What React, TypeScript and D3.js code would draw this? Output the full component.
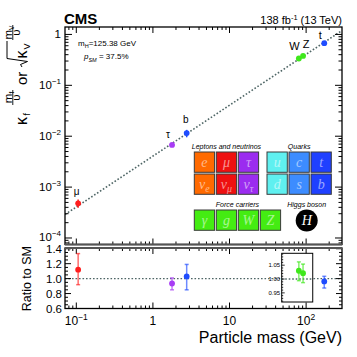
import * as d3 from "d3";
import React from "react";

const particleNames = ["μ", "τ", "b", "W", "Z", "t"];
const particleMass = [0.1057, 1.777, 2.76, 80.38, 91.19, 172.5]; // GeV
const ratioToSM = [1.12, 0.935, 1.03, 1.03, 1.021, 0.963];
const ratioUp = [1.335, 1.01, 1.19, 1.062, 1.054, 1.031];
const ratioDown = [0.919, 0.85, 0.85, 0.994, 0.987, 0.874];
const particleColor = ["#ff1e1e", "#a83cf5", "#1f4cff", "#3fe81c", "#3fe81c", "#1f4cff"];
const shownInInset = [false, false, false, true, true, false];
const vev = 246.22;

// axis ticks
const xMajor = [0.1, 1, 10, 100];
const xMajorBase = ["10", "1", "10", "10"];
const xMajorSup = ["−1", "", "", "2"];
const yMajor = [1, 0.1, 0.01, 0.001, 0.0001];
const yMajorBase = ["1", "10", "10", "10", "10"];
const yMajorSup = ["", "−1", "−2", "−3", "−4"];
const ratioMajor = [0.6, 0.8, 1.0, 1.2, 1.4];
const insetMajor = [0.95, 1.0, 1.05];

// legend
const leptonTop = ["e", "μ", "τ"];
const neutrinoSub = ["e", "μ", "τ"];
const leptonColor = ["#ff6a00", "#ee1010", "#9b2cef"];
const quarkTop = ["u", "c", "t"];
const quarkBottom = ["d", "s", "b"];
const quarkColor = ["#5ff0f0", "#3d8cff", "#1f40ff"];
const carriers = ["γ", "g", "W", "Z"];
const carrierColor = "#44ec12";

const sans = "'Liberation Sans', Arial, Helvetica, sans-serif";
const serif = "'Liberation Serif', 'Times New Roman', serif";
const dotColor = "#4f6666";

function logTicks(scale) {
  const [a, b] = scale.domain();
  const out = [];
  for (let e = Math.floor(Math.log10(a)); e <= Math.ceil(Math.log10(b)); e++) {
    for (let k = 1; k <= 9; k++) {
      const v = k * Math.pow(10, e);
      if (v >= a && v <= b) out.push({ v, major: k === 1 });
    }
  }
  return out;
}

function linTicks(lo, hi, step, majorStep) {
  const out = [];
  const n = Math.round((hi - lo) / step);
  for (let i = 0; i <= n; i++) {
    const v = lo + i * step;
    const r = v / majorStep;
    out.push({ v, major: Math.abs(r - Math.round(r)) < 1e-6 });
  }
  return out;
}

function Box({ x, y, size, color, children }) {
  return (
    <g>
      <rect x={x} y={y} width={size} height={size} fill={color} stroke="#3a3a3a" strokeWidth={1} />
      <text
        x={x + size / 2}
        y={y + size / 2 + 4.5}
        textAnchor="middle"
        fontFamily={serif}
        fontStyle="italic"
        fontSize={14}
        fill="#fff"
        fillOpacity={0.55}
      >
        {children}
      </text>
    </g>
  );
}

export default function App() {
  const x = d3.scaleLog().domain([0.0712, 294]).range([65, 342]);
  const yMain = d3.scaleLog().domain([7.45e-5, 1.4]).range([244.5, 27]);
  const yRatio = d3.scaleLinear().domain([0.6, 1.41]).range([308.5, 248]);
  const yInset = d3.scaleLinear().domain([0.917, 1.093]).range([302, 253.3]);
  const insetX = [x(48), x(122)];

  const [mainL, mainR] = x.range();
  const [mainB, mainT] = yMain.range();
  const [ratB, ratT] = yRatio.range();

  const pts = particleNames.map((name, i) => {
    const sm = particleMass[i] / vev;
    return {
      name,
      cx: x(particleMass[i]),
      cy: yMain(sm * ratioToSM[i]),
      hi: yMain(sm * ratioUp[i]),
      lo: yMain(sm * ratioDown[i]),
      ry: shownInInset[i] ? yInset(ratioToSM[i]) : yRatio(ratioToSM[i]),
      rhi: shownInInset[i] ? yInset(ratioUp[i]) : yRatio(ratioUp[i]),
      rlo: shownInInset[i] ? yInset(ratioDown[i]) : yRatio(ratioDown[i]),
      color: particleColor[i],
    };
  });
  const labelDx = [-1.5, -4, -1, -4.5, 3, -4];
  const labelDy = [-12, -11, -14, -13, -12, -8];

  const smLine = d3.line().x((d) => x(d)).y((d) => yMain(d / vev))(x.domain());

  const xt = logTicks(x);
  const yt = logTicks(yMain);
  const rt = linTicks(0.6, 1.4, 0.05, 0.2);
  const it = linTicks(0.92, 1.09, 0.01, 0.05);

  const boxSize = 20.3;
  const step = 22;

  return (
    <svg
      width={357}
      height={357}
      style={{ position: "absolute", left: 0, top: 0, background: "#fff" }}
      fontFamily={sans}
    >
      <defs>
        <clipPath id="mainClip">
          <rect x={mainL} y={mainT} width={mainR - mainL} height={mainB - mainT} />
        </clipPath>
      </defs>

      {/* header */}
      <text x={64} y={24} fontSize={15} fontWeight="bold">CMS</text>
      <text x={342} y={24} fontSize={11} textAnchor="end">
        138 fb<tspan dy={-4} fontSize={7.5}>-1</tspan>
        <tspan dy={4}> (13 TeV)</tspan>
      </text>

      {/* main panel */}
      <path d={smLine} clipPath="url(#mainClip)" fill="none" stroke={dotColor} strokeWidth={1.6} strokeDasharray="1.6,1.9" />

      {xt.map((t, i) => (
        <g key={"xm" + i} stroke="#000" strokeWidth={1}>
          <line x1={x(t.v)} x2={x(t.v)} y1={mainB} y2={mainB - (t.major ? 6 : 3)} />
          <line x1={x(t.v)} x2={x(t.v)} y1={mainT} y2={mainT + (t.major ? 6 : 3)} />
          <line x1={x(t.v)} x2={x(t.v)} y1={ratB} y2={ratB - (t.major ? 6 : 3)} />
          <line x1={x(t.v)} x2={x(t.v)} y1={ratT} y2={ratT + (t.major ? 6 : 3)} />
        </g>
      ))}
      {yt.map((t, i) => (
        <g key={"ym" + i} stroke="#000" strokeWidth={1}>
          <line x1={mainL} x2={mainL + (t.major ? 7 : 3.5)} y1={yMain(t.v)} y2={yMain(t.v)} />
          <line x1={mainR} x2={mainR - (t.major ? 7 : 3.5)} y1={yMain(t.v)} y2={yMain(t.v)} />
        </g>
      ))}
      {yMajor.map((v, i) => (
        <text key={"yl" + i} x={61} y={yMain(v) + 3.5} fontSize={11.5} textAnchor="end">
          {yMajorBase[i]}
          {yMajorSup[i] && (
            <tspan dy={-5} fontSize={8}>
              {yMajorSup[i]}
            </tspan>
          )}
        </text>
      ))}

      {pts.map((p, i) => (
        <g key={"p" + i}>
          <line x1={p.cx} x2={p.cx} y1={p.hi} y2={p.lo} stroke={p.color} strokeWidth={1.5} />
          <circle cx={p.cx} cy={p.cy} r={2.9} fill={p.color} />
          <text x={p.cx + labelDx[i]} y={p.cy + labelDy[i] + 4} fontSize={i < 3 ? 10 : 11} textAnchor="middle">
            {p.name}
          </text>
        </g>
      ))}

      <text x={78} y={46} fontSize={8}>
        m<tspan dy={2} fontSize={5.5}>H</tspan>
        <tspan dy={-2}>=125.38 GeV</tspan>
      </text>
      <text x={84} y={59} fontSize={8}>
        <tspan fontStyle="italic">p</tspan>
        <tspan dy={2.5} fontSize={5.5} fontStyle="italic">SM</tspan>
        <tspan dy={-2.5}> = 37.5%</tspan>
      </text>

      {/* legend */}
      <g fontFamily={sans} fontStyle="italic" fontSize={7} textAnchor="middle">
        <text x={194.3 + (3 * step - 1.7) / 2} y={148.5}>Leptons and neutrinos</text>
        <text x={267 + (3 * step - 1.7) / 2} y={148.5}>Quarks</text>
        <text x={194.3 + (4 * step - 1.7) / 2} y={206.5}>Force carriers</text>
        <text x={306.7} y={206.5}>Higgs boson</text>
      </g>
      {leptonTop.map((s, i) => (
        <Box key={"l" + i} x={194.3 + i * step} y={152} size={boxSize} color={leptonColor[i]}>
          {s}
        </Box>
      ))}
      {neutrinoSub.map((s, i) => (
        <Box key={"n" + i} x={194.3 + i * step} y={174} size={boxSize} color={leptonColor[i]}>
          ν<tspan dy={3} fontSize={10}>{s}</tspan>
        </Box>
      ))}
      {quarkTop.map((s, i) => (
        <Box key={"qu" + i} x={267 + i * step} y={152} size={boxSize} color={quarkColor[i]}>
          {s}
        </Box>
      ))}
      {quarkBottom.map((s, i) => (
        <Box key={"qd" + i} x={267 + i * step} y={174} size={boxSize} color={quarkColor[i]}>
          {s}
        </Box>
      ))}
      {carriers.map((s, i) => (
        <Box key={"c" + i} x={194.3 + i * step} y={210} size={boxSize} color={carrierColor}>
          {s}
        </Box>
      ))}
      <circle cx={306.7} cy={220.5} r={11} fill="#000" />
      <text x={306.7} y={225} textAnchor="middle" fontFamily={serif} fontStyle="italic" fontSize={14} fill="#fff">
        H
      </text>

      {/* ratio panel */}
      <line x1={mainL} x2={mainR} y1={yRatio(1)} y2={yRatio(1)} stroke={dotColor} strokeWidth={1.4} strokeDasharray="1.6,1.9" />
      {rt.map((t, i) => (
        <g key={"rt" + i} stroke="#000" strokeWidth={1}>
          <line x1={mainL} x2={mainL + (t.major ? 6 : 3)} y1={yRatio(t.v)} y2={yRatio(t.v)} />
          <line x1={mainR} x2={mainR - (t.major ? 6 : 3)} y1={yRatio(t.v)} y2={yRatio(t.v)} />
        </g>
      ))}
      {ratioMajor.map((v) => (
        <text key={"rl" + v} x={62} y={yRatio(v) + (v > 1.3 ? 4.5 : 4)} fontSize={11.5} textAnchor="end">
          {v.toFixed(1)}
        </text>
      ))}
      {xMajor.map((v, i) => (
        <text key={"xl" + i} x={x(v)} y={325} fontSize={12} textAnchor="middle">
          {xMajorBase[i]}
          {xMajorSup[i] && (
            <tspan dy={-5} fontSize={8.5}>
              {xMajorSup[i]}
            </tspan>
          )}
        </text>
      ))}

      {/* inset for W and Z */}
      <rect x={insetX[0]} y={yInset.range()[1]} width={insetX[1] - insetX[0]} height={yInset.range()[0] - yInset.range()[1]} fill="#fff" stroke="#000" strokeWidth={1} />
      <line x1={insetX[0]} x2={insetX[1]} y1={yInset(1)} y2={yInset(1)} stroke={dotColor} strokeWidth={1.4} strokeDasharray="1.6,1.9" />
      {it.map((t, i) => (
        <line key={"it" + i} x1={insetX[0]} x2={insetX[0] + (t.major ? 3 : 1.5)} y1={yInset(t.v)} y2={yInset(t.v)} stroke="#000" strokeWidth={0.8} />
      ))}
      {insetMajor.map((v) => (
        <text key={"il" + v} x={insetX[0] - 1.5} y={yInset(v) + 2} fontSize={6} textAnchor="end">
          {v.toFixed(2)}
        </text>
      ))}

      {pts.map((p, i) => (
        <g key={"r" + i}>
          <g stroke={p.color} strokeOpacity={0.65} strokeWidth={1.5}>
            <line x1={p.cx} x2={p.cx} y1={p.rhi} y2={p.rlo} />
            <line x1={p.cx - 2} x2={p.cx + 2} y1={p.rhi} y2={p.rhi} />
            <line x1={p.cx - 2} x2={p.cx + 2} y1={p.rlo} y2={p.rlo} />
          </g>
          <circle cx={p.cx} cy={p.ry} r={2.9} fill={p.color} />
        </g>
      ))}

      {/* frames */}
      <rect x={mainL} y={mainT} width={mainR - mainL} height={mainB - mainT} fill="none" stroke="#000" strokeWidth={1.3} />
      <rect x={mainL} y={ratT} width={mainR - mainL} height={ratB - ratT} fill="none" stroke="#000" strokeWidth={1.3} />
      <line x1={mainL} x2={mainR} y1={mainB} y2={mainB} stroke="#555" strokeWidth={2} />
      <line x1={mainL} x2={mainR} y1={ratT} y2={ratT} stroke="#555" strokeWidth={2} />

      {/* axis titles */}
      <text x={342} y={343} fontSize={16} textAnchor="end">Particle mass (GeV)</text>
      <text transform="translate(30.5,246) rotate(-90)" fontSize={12.5} textAnchor="end">Ratio to SM</text>

      <g transform="translate(27,126) rotate(-90)">
        <text x={1} y={0} fontSize={16}>κ</text>
        <text x={10.5} y={3} fontSize={9}>f</text>
        <text x={28.5} y={-15.5} fontSize={11.5} textAnchor="middle">
          m<tspan dy={2} fontSize={6.5}>f</tspan>
        </text>
        <line x1={21} x2={36} y1={-14.2} y2={-14.2} stroke="#000" strokeWidth={0.9} />
        <text x={28.5} y={-7} fontSize={11.5} textAnchor="middle">υ</text>
        <text x={41} y={0} fontSize={15}>or</text>
        <path d="M59,-5 L61.5,-6.5 L64.5,0.5 L67.5,-20 L85,-20" fill="none" stroke="#000" strokeWidth={1} />
        <text x={67.5} y={0} fontSize={16}>κ</text>
        <text x={76.5} y={3} fontSize={9}>V</text>
        <text x={93.5} y={-15.5} fontSize={11.5} textAnchor="middle">
          m<tspan dy={2} fontSize={6.5}>V</tspan>
        </text>
        <line x1={86} x2={101} y1={-14.2} y2={-14.2} stroke="#000" strokeWidth={0.9} />
        <text x={93.5} y={-7} fontSize={11.5} textAnchor="middle">υ</text>
      </g>
    </svg>
  );
}
